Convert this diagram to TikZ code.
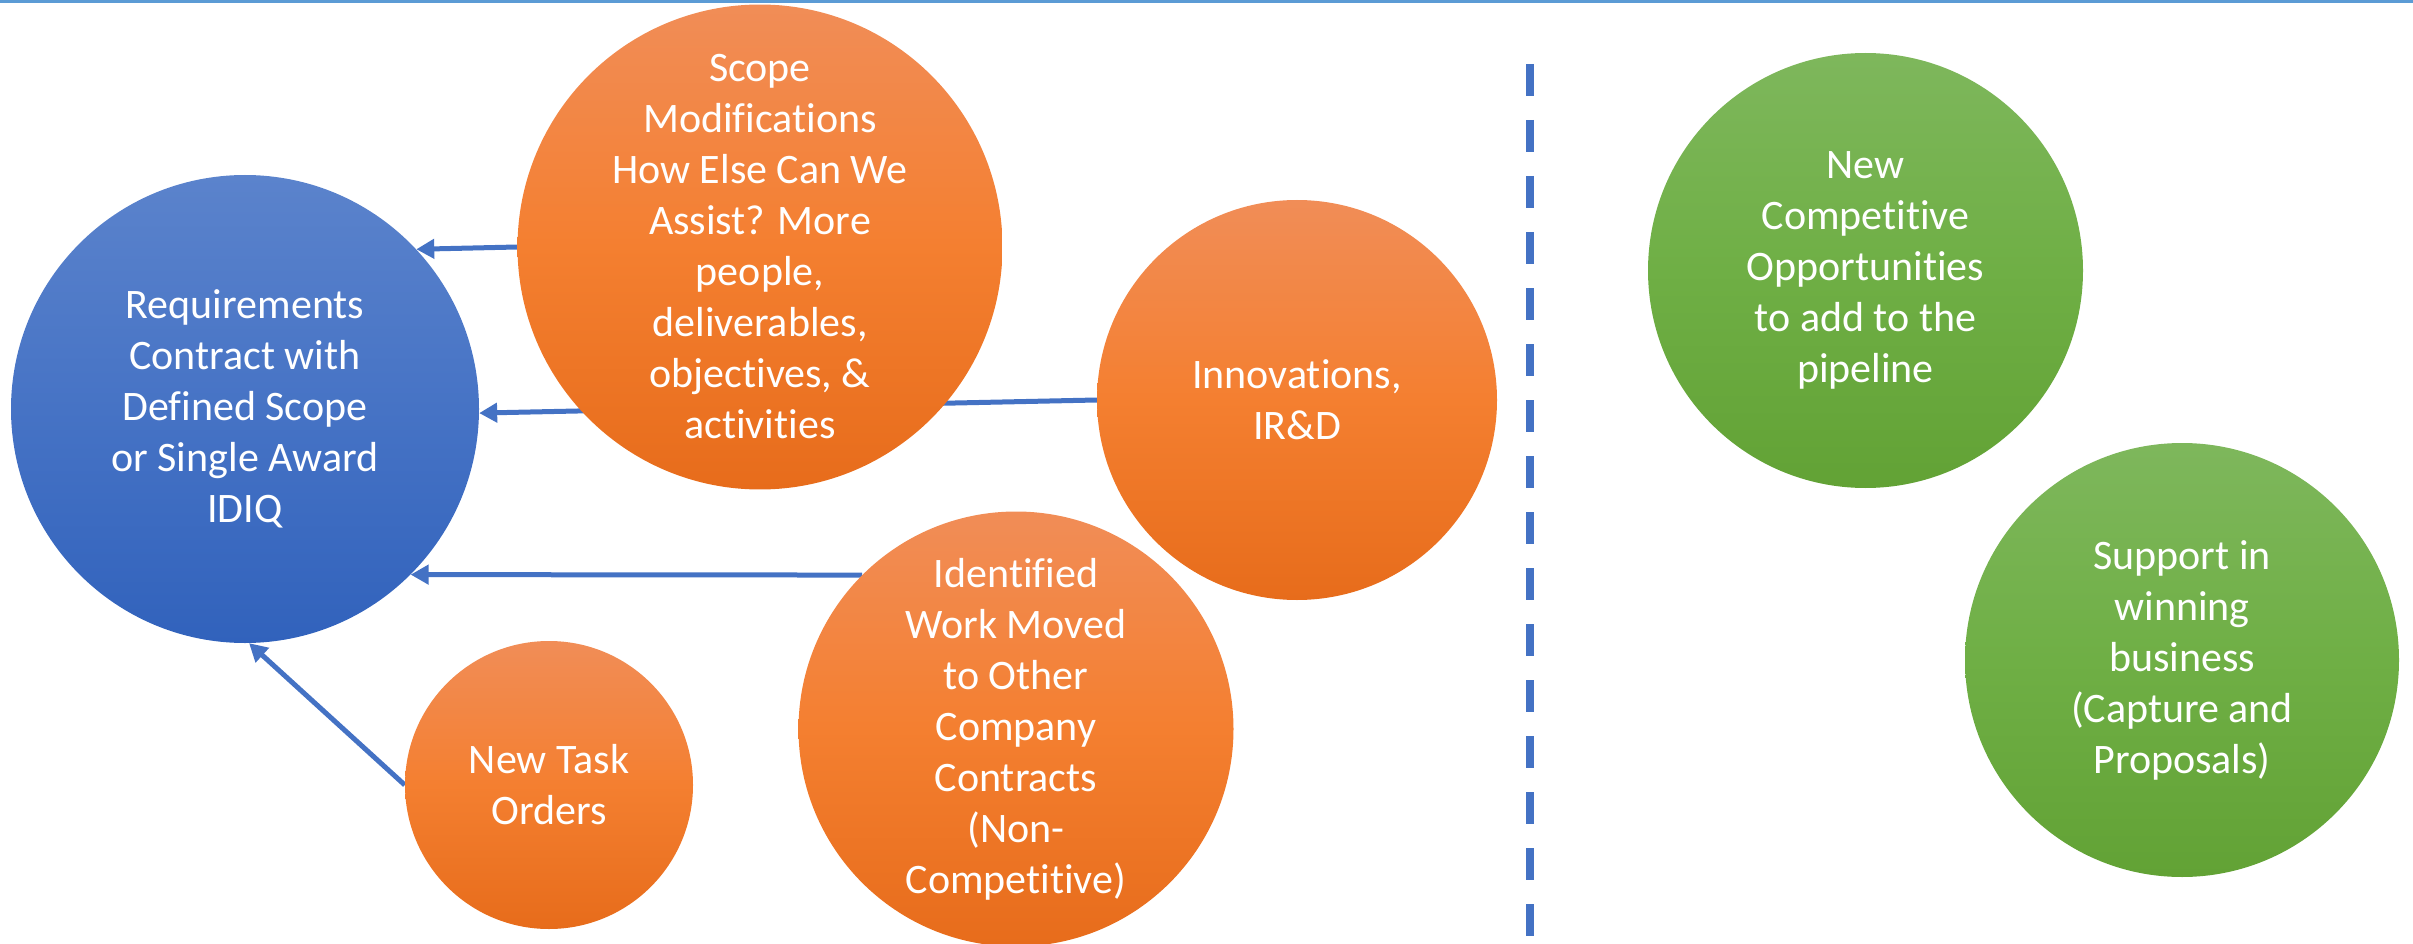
\documentclass[tikz,border=0pt]{standalone}
\usepackage{fontspec}
\setmainfont{Carlito}[Ligatures={CommonOff}, RawFeature={-liga;-clig;-dlig}]
\usetikzlibrary{arrows.meta}

% palette
\definecolor{ruleBlue}{HTML}{5B9BD5}
\definecolor{linkBlue}{HTML}{4472C4}
\definecolor{blueTop}{HTML}{5B83CC}
\definecolor{blueMid}{HTML}{4673C5}
\definecolor{blueBot}{HTML}{3162BC}
\definecolor{orangeTop}{HTML}{F18D57}
\definecolor{orangeMid}{HTML}{F47F30}
\definecolor{orangeBot}{HTML}{E76C1B}
\definecolor{greenTop}{HTML}{7EB75C}
\definecolor{greenMid}{HTML}{6FAF45}
\definecolor{greenBot}{HTML}{62A235}

\pgfdeclarelayer{back}
\pgfdeclarelayer{edges}
\pgfsetlayers{back,edges,main}

\begin{document}
\begin{tikzpicture}[x=1pt,y=-1pt,
  bubble/.style={circle, inner sep=0pt, text=white, align=center,
    font=\fontsize{42}{51}\selectfont},
  bluebubble/.style={bubble, top color=blueTop, bottom color=blueBot, middle color=blueMid},
  orangebubble/.style={bubble, top color=orangeTop, bottom color=orangeBot, middle color=orangeMid},
  greenbubble/.style={bubble, top color=greenTop, bottom color=greenBot, middle color=greenMid},
  link/.style={draw=linkBlue, line width=5pt, -{Triangle[length=18pt,width=19pt]}},
  divider/.style={draw=linkBlue, line width=8pt, dash pattern=on 32pt off 24pt}
]
\useasboundingbox (0,0) rectangle (2413,944);

% rule across the top edge
\fill[ruleBlue] (0,0) rectangle (2413,3.5);

% central contract
\begin{pgfonlayer}{back}
\node[bluebubble, minimum size=468pt] (req) at (245,409)
  {Requirements\\Contract with\\Defined Scope\\or Single Award\\IDIQ};
\end{pgfonlayer}

% growth sources
\node[orangebubble, minimum size=484pt] (scope) at (760,247)
  {Scope\\Modifications\\How Else Can We\\Assist? More\\people,\\deliverables,\\objectives, \&\\activities};
\node[orangebubble, minimum size=400pt] (innov) at (1297,400)
  {Innovations,\\IR\&D};
\node[orangebubble, minimum size=435pt] (moved) at (1016,729)
  {Identified\\Work Moved\\to Other\\Company\\Contracts\\(Non-\\Competitive)};
\node[orangebubble, minimum size=288pt] (task) at (549,785)
  {New Task\\Orders};

% new business side
\node[greenbubble, minimum size=435pt] (pipe) at (1865.5,270.5)
  {New\\Competitive\\Opportunities\\to add to the\\pipeline};
\node[greenbubble, minimum size=434pt] (win) at (2182,660)
  {Support in\\winning\\business\\(Capture and\\Proposals)};

% connectors into the contract
\begin{pgfonlayer}{edges}
\draw[link] (scope.west) -- (req.43.8);
\draw[link] (innov.west) -- (req.-1);
\draw[link] (moved.135) -- (req.-45);
\draw[link] (task.west) -- (req.-89);
\end{pgfonlayer}

% separator
\draw[divider] (1530,64) -- (1530,936);
\end{tikzpicture}
\end{document}
